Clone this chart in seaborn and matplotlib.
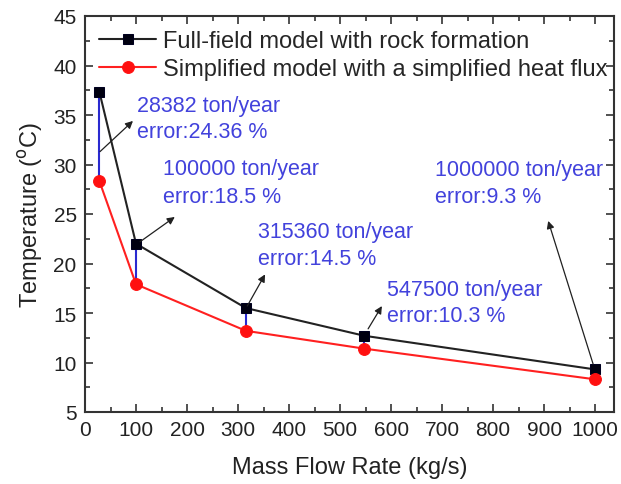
import matplotlib
matplotlib.use("Agg")
import matplotlib.pyplot as plt
import seaborn as sns
import pandas as pd
from matplotlib.ticker import MultipleLocator

sns.set_style("ticks")
plt.rcParams['font.family'] = ['Liberation Sans', 'DejaVu Sans']

# Data
flow_rate = [28.382, 100, 315.36, 547.5, 1000]            # kg/s
full_field = [37.3, 22.0, 15.5, 12.7, 9.3]                 # °C
simplified = [28.3, 17.9, 13.2, 11.4, 8.3]                 # °C
ton_labels = ["28382 ton/year", "100000 ton/year", "315360 ton/year",
              "547500 ton/year", "1000000 ton/year"]
err_labels = ["error:24.36 %", "error:18.5 %", "error:14.5 %",
              "error:10.3 %", "error:9.3 %"]
series_names = ["Full-field model with rock formation",
                "Simplified model with a simplified heat flux"]

# annotation placement (data coords): text left x, line1 y, line2 y, arrow tail, arrow head
text_x = [102, 153, 339, 592, 686]
text_y1 = [36.0, 29.6, 23.2, 17.4, 29.5]
text_y2 = [33.3, 26.8, 20.5, 14.7, 26.8]
arrow_tail = [(29.4, 31.3), (108, 22.2), (318, 15.7), (555, 13.4), (996, 9.85)]
arrow_head = [(94, 34.4), (176, 24.7), (353, 18.9), (582, 15.7), (908, 24.3)]

df_full = pd.DataFrame({"x": flow_rate, "y": full_field})
df_simp = pd.DataFrame({"x": flow_rate, "y": simplified})

fig = plt.figure(figsize=(6.21, 4.85), dpi=100)
ax = fig.add_axes([85/621, 1-413/485, (614-85)/621, (413-17)/485])

blue = "#4242dc"
ax.vlines(flow_rate, simplified, full_field, color="#2a2ad0", lw=1.5, zorder=2)

sns.lineplot(data=df_full, x="x", y="y", ax=ax, color="#222222", lw=1.5,
             marker="s", markersize=7.5, markeredgecolor="#000020",
             markerfacecolor="#000010", label=series_names[0], zorder=3)
sns.lineplot(data=df_simp, x="x", y="y", ax=ax, color="#ff2020", lw=1.5,
             marker="o", markersize=8.5, markeredgecolor="#ff1010",
             markerfacecolor="#ff1010", label=series_names[1], zorder=3)

for i in range(len(flow_rate)):
    ax.annotate("", xy=arrow_head[i], xytext=arrow_tail[i],
                arrowprops=dict(arrowstyle="-|>", color="#202020", lw=0.9,
                                mutation_scale=11, shrinkA=0, shrinkB=0))
    ax.text(text_x[i], text_y1[i], ton_labels[i], color=blue, fontsize=15.5,
            va="center", ha="left")
    ax.text(text_x[i], text_y2[i], err_labels[i], color=blue, fontsize=15.5,
            va="center", ha="left")

ax.set_xlim(0, 1037)
ax.set_ylim(5, 45)
ax.xaxis.set_major_locator(MultipleLocator(100))
ax.xaxis.set_minor_locator(MultipleLocator(50))
ax.yaxis.set_major_locator(MultipleLocator(5))
ax.yaxis.set_minor_locator(MultipleLocator(2.5))
ax.tick_params(which="both", direction="in", top=True, right=True,
               color="#333333", width=1.2)
ax.tick_params(which="major", length=6, labelsize=15, labelcolor="#222222", pad=6)
ax.tick_params(which="minor", length=3.5)
for s in ax.spines.values():
    s.set_linewidth(1.5)
    s.set_color("#333333")

ax.set_xlabel("Mass Flow Rate (kg/s)", fontsize=17, color="#222222", labelpad=12)
ax.set_ylabel("Temperature ($^{\\rm o}$C)", fontsize=17, color="#222222", labelpad=6)

ax.legend(loc="upper left", frameon=False, fontsize=17, handlelength=2.4,
          handletextpad=0.3, borderaxespad=0.2, labelspacing=0.25,
          bbox_to_anchor=(0.0, 1.0))

fig.savefig("out.png", dpi=100)
